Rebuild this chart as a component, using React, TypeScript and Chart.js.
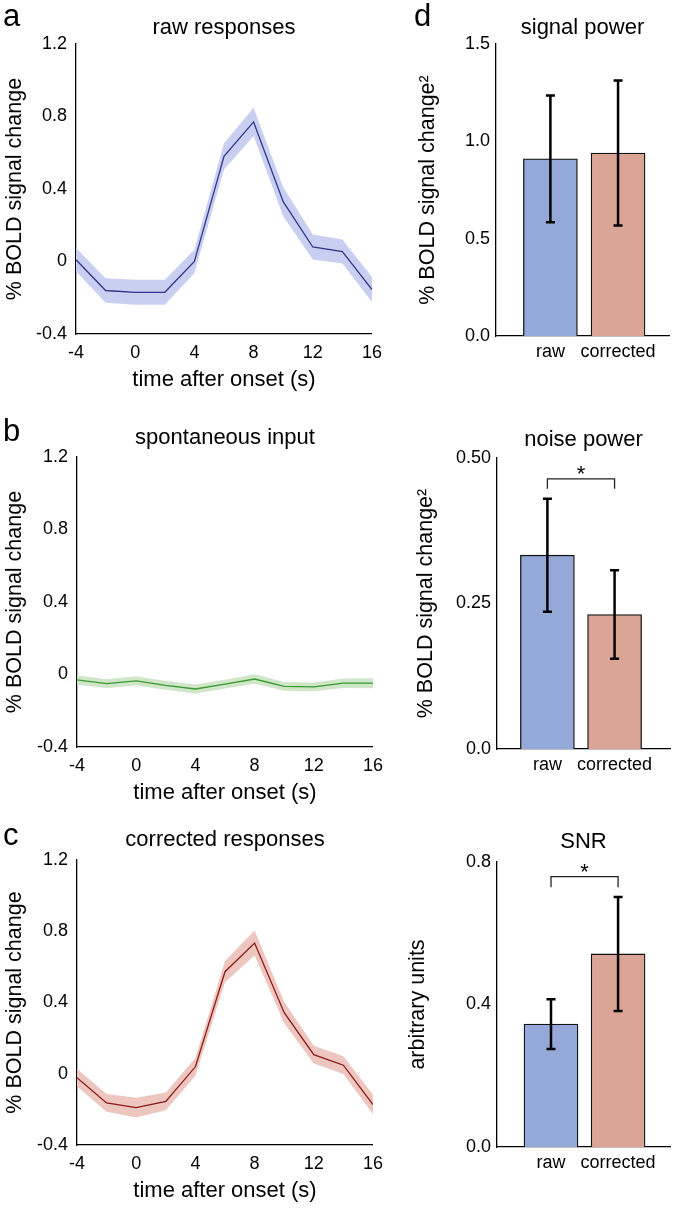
import React, { useEffect, useRef } from 'react';
import { Chart, registerables } from 'chart.js';

Chart.register(...registerables);

const FONT = '"Liberation Sans", Arial, Helvetica, sans-serif';

// ---------- data ----------
const timePoints = [-4, -2, 0, 2, 4, 6, 8, 10, 12, 14, 16];

const rawMean = [0.01, -0.16, -0.17, -0.17, 0.0, 0.58, 0.77, 0.33, 0.08, 0.055, -0.155];
const rawSem = [0.064, 0.068, 0.069, 0.069, 0.065, 0.072, 0.078, 0.08, 0.069, 0.066, 0.069];

const spontMean = [-0.03, -0.05, -0.035, -0.06, -0.08, -0.053, -0.025, -0.065, -0.068, -0.048, -0.048];
const spontSem = [0.026, 0.024, 0.026, 0.024, 0.025, 0.024, 0.026, 0.024, 0.024, 0.026, 0.028];

const corrMean = [-0.022, -0.164, -0.19, -0.155, 0.039, 0.573, 0.734, 0.343, 0.107, 0.048, -0.173];
const corrSem = [0.05, 0.05, 0.055, 0.05, 0.05, 0.06, 0.07, 0.06, 0.05, 0.05, 0.055];

const lineXTicks = [-4, 0, 4, 8, 12, 16];
const lineXTickLabels = ['-4', '0', '4', '8', '12', '16'];
const lineYTicks = [-0.4, 0, 0.4, 0.8, 1.2];
const lineYTickLabels = ['-0.4', '0', '0.4', '0.8', '1.2'];

const barCategories = ['raw', 'corrected'];

const signalPower = [0.91, 0.94];
const signalPowerErr = [0.326, 0.372];
const signalTicks = [0, 0.5, 1.0, 1.5];
const signalTickLabels = ['0.0', '0.5', '1.0', '1.5'];

const noisePower = [0.333, 0.231];
const noisePowerErr = [0.097, 0.076];
const noiseTicks = [0, 0.25, 0.5];
const noiseTickLabels = ['0.0', '0.25', '0.50'];

const snrValues = [0.345, 0.542];
const snrErr = [0.07, 0.16];
const snrTicks = [0, 0.4, 0.8];
const snrTickLabels = ['0.0', '0.4', '0.8'];

// ---------- styles ----------
const BAR_COLORS = ['#95a9d9', '#dba596'];

type LineLayout = { titleCenter: number; yTitleCenter: number; right: number };
type BarLayout = {
  titleCenter: number;
  yTitleCenter: number;
  yWidth: number;
  right: number;
  xMin: number;
  xMax: number;
};

const panelTitlePlugin = {
  id: 'panelTitle',
  afterDraw(chart: any, _args: any, opts: any) {
    const { ctx, chartArea } = chart;
    ctx.save();
    ctx.font = `22px ${FONT}`;
    ctx.fillStyle = '#000';
    ctx.textAlign = 'center';
    ctx.textBaseline = 'middle';
    ctx.fillText(opts.text, (chartArea.left + chartArea.right) / 2, opts.y);
    ctx.restore();
  },
};

function lineConfig(
  title: string,
  mean: number[],
  sem: number[],
  lineColor: string,
  bandColor: string,
  L: LineLayout
): any {
  const pts = (arr: number[]) => arr.map((v, i) => ({ x: timePoints[i], y: v }));
  const upper = mean.map((m, i) => m + sem[i]);
  const lower = mean.map((m, i) => m - sem[i]);
  return {
    type: 'line',
    data: {
      datasets: [
        { data: pts(lower), order: 2, borderWidth: 0, pointRadius: 0, fill: false, backgroundColor: bandColor, borderColor: bandColor },
        { data: pts(upper), order: 1, borderWidth: 0, pointRadius: 0, fill: '-1', backgroundColor: bandColor, borderColor: bandColor },
        { data: pts(mean), order: 0, borderWidth: 1.3, pointRadius: 0, fill: false, borderColor: lineColor, tension: 0 },
      ],
    },
    plugins: [panelTitlePlugin],
    options: {
      responsive: false,
      animation: false,
      events: [],
      layout: { padding: { left: 0, right: L.right, top: 44, bottom: 0 } },
      plugins: {
        legend: { display: false },
        tooltip: { enabled: false },
        title: { display: false },
        panelTitle: { text: title, y: L.titleCenter },
      },
      scales: {
        x: {
          type: 'linear',
          min: -4,
          max: 16,
          offset: false,
          grid: { display: false, drawTicks: false },
          border: { display: true, color: '#000', width: 1.3 },
          afterBuildTicks: (s: any) => {
            s.ticks = lineXTicks.map((v) => ({ value: v }));
          },
          afterFit: (s: any) => {
            s.height = 66;
          },
          ticks: {
            color: '#000',
            font: { family: FONT, size: 18, lineHeight: 1.2 },
            padding: 8,
            maxRotation: 0,
            autoSkip: false,
            callback: (_v: any, i: number) => lineXTickLabels[i],
          },
          title: {
            display: true,
            text: 'time after onset (s)',
            color: '#000',
            font: { family: FONT, size: 22, lineHeight: 1.2 },
            padding: { top: 0, bottom: 7 },
          },
        },
        y: {
          type: 'linear',
          min: -0.4,
          max: 1.2,
          grid: { display: false, drawTicks: false },
          border: { display: true, color: '#000', width: 1.3 },
          afterBuildTicks: (s: any) => {
            s.ticks = lineYTicks.map((v) => ({ value: v }));
          },
          afterFit: (s: any) => {
            s.width = 76;
          },
          ticks: {
            color: '#000',
            font: { family: FONT, size: 18, lineHeight: 1.2 },
            padding: 9,
            autoSkip: false,
            callback: (_v: any, i: number) => lineYTickLabels[i],
          },
          title: {
            display: true,
            text: '% BOLD signal change',
            color: '#000',
            font: { family: FONT, size: 21.5, lineHeight: 1.2 },
            padding: { top: L.yTitleCenter - 12.9, bottom: 0 },
          },
        },
      },
    },
  };
}

const errorBarPlugin = {
  id: 'errorBars',
  afterDatasetsDraw(chart: any, _args: any, opts: any) {
    const { ctx } = chart;
    const y = chart.scales.y;
    const meta = chart.getDatasetMeta(0);
    const values: number[] = opts.values || [];
    const errors: number[] = opts.errors || [];
    ctx.save();
    ctx.strokeStyle = '#000';
    ctx.lineWidth = 2.5;
    ctx.lineCap = 'butt';
    meta.data.forEach((bar: any, i: number) => {
      const cx = bar.x;
      const yTop = y.getPixelForValue(values[i] + errors[i]);
      const yBot = y.getPixelForValue(values[i] - errors[i]);
      ctx.beginPath();
      ctx.moveTo(cx, yTop);
      ctx.lineTo(cx, yBot);
      ctx.moveTo(cx - 4.5, yTop);
      ctx.lineTo(cx + 4.5, yTop);
      ctx.moveTo(cx - 4.5, yBot);
      ctx.lineTo(cx + 4.5, yBot);
      ctx.stroke();
    });
    if (opts.bracket) {
      const b = opts.bracket;
      const x1 = meta.data[0].x;
      const x2 = meta.data[1].x;
      const yT = y.getPixelForValue(b.top);
      const yL = y.getPixelForValue(b.leg);
      ctx.lineWidth = 1.3;
      ctx.strokeStyle = '#222';
      ctx.beginPath();
      ctx.moveTo(x1, yL);
      ctx.lineTo(x1, yT);
      ctx.lineTo(x2, yT);
      ctx.lineTo(x2, yL);
      ctx.stroke();
      ctx.fillStyle = '#000';
      ctx.font = `22px ${FONT}`;
      ctx.textAlign = 'center';
      ctx.textBaseline = 'alphabetic';
      ctx.fillText('*', (x1 + x2) / 2, yT + 2);
    }
    ctx.restore();
  },
};

function barConfig(
  title: string,
  yTitle: string,
  values: number[],
  errors: number[],
  ticks: number[],
  tickLabels: string[],
  L: BarLayout,
  bracket?: { top: number; leg: number }
): any {
  return {
    type: 'bar',
    data: {
      datasets: [
        {
          data: values.map((v, i) => ({ x: i + 1, y: v })),
          backgroundColor: BAR_COLORS,
          borderColor: '#111',
          borderWidth: 1.3,
          barThickness: 54,
        },
      ],
    },
    plugins: [errorBarPlugin, panelTitlePlugin],
    options: {
      responsive: false,
      animation: false,
      events: [],
      layout: { padding: { left: 0, right: L.right, top: 44, bottom: 0 } },
      plugins: {
        legend: { display: false },
        tooltip: { enabled: false },
        title: { display: false },
        panelTitle: { text: title, y: L.titleCenter },
        errorBars: { values, errors, bracket },
      },
      scales: {
        x: {
          type: 'linear',
          min: L.xMin,
          max: L.xMax,
          offset: false,
          grid: { display: false, drawTicks: false, offset: false },
          border: { display: true, color: '#000', width: 1.3 },
          afterBuildTicks: (s: any) => {
            s.ticks = barCategories.map((_c, i) => ({ value: i + 1 }));
          },
          afterFit: (s: any) => {
            s.height = 64;
          },
          ticks: {
            color: '#000',
            font: { family: FONT, size: 18, lineHeight: 1.2 },
            padding: 5,
            maxRotation: 0,
            autoSkip: false,
            callback: (_v: any, i: number) => barCategories[i],
          },
        },
        y: {
          type: 'linear',
          min: ticks[0],
          max: ticks[ticks.length - 1],
          grid: { display: false, drawTicks: false },
          border: { display: true, color: '#000', width: 1.3 },
          afterBuildTicks: (s: any) => {
            s.ticks = ticks.map((v) => ({ value: v }));
          },
          afterFit: (s: any) => {
            s.width = L.yWidth;
          },
          ticks: {
            color: '#000',
            font: { family: FONT, size: 18, lineHeight: 1.2 },
            padding: 6,
            autoSkip: false,
            callback: (_v: any, i: number) => tickLabels[i],
          },
          title: {
            display: true,
            text: yTitle,
            color: '#000',
            font: { family: FONT, size: 21.5, lineHeight: 1.2 },
            padding: { top: L.yTitleCenter - 12.9, bottom: 0 },
          },
        },
      },
    },
  };
}

type PanelProps = { left: number; top: number; width: number; height: number; config: () => any };

function ChartPanel({ left, top, width, height, config }: PanelProps) {
  const ref = useRef<HTMLCanvasElement>(null);
  useEffect(() => {
    if (!ref.current) return;
    const chart = new Chart(ref.current, config());
    return () => chart.destroy();
  }, []);
  return (
    <canvas
      ref={ref}
      width={width}
      height={height}
      style={{ position: 'absolute', left, top, width, height }}
    />
  );
}

const letterStyle = (left: number, top: number): React.CSSProperties => ({
  position: 'absolute',
  left,
  top,
  fontFamily: FONT,
  fontSize: 31,
  lineHeight: '30px',
  color: '#000',
});

export default function App() {
  return (
    <div style={{ position: 'absolute', left: 0, top: 0, width: 676, height: 1211, background: '#fff', overflow: 'hidden' }}>
      <ChartPanel
        left={0}
        top={0}
        width={390}
        height={400}
        config={() =>
          lineConfig('raw responses', rawMean, rawSem, '#34348a', '#c8cff0', { titleCenter: 28, yTitleCenter: 15, right: 15 })
        }
      />
      <ChartPanel
        left={1}
        top={413}
        width={390}
        height={400}
        config={() =>
          lineConfig('spontaneous input', spontMean, spontSem, '#3a9a32', '#cfe6c8', { titleCenter: 25, yTitleCenter: 14, right: 15 })
        }
      />
      <ChartPanel
        left={1}
        top={816}
        width={390}
        height={395}
        config={() =>
          lineConfig('corrected responses', corrMean, corrSem, '#8c1a1a', '#ecc6bf', { titleCenter: 24, yTitleCenter: 14, right: 15 })
        }
      />
      <ChartPanel
        left={400}
        top={0}
        width={276}
        height={400}
        config={() =>
          barConfig('signal power', '% BOLD signal change²', signalPower, signalPowerErr, signalTicks, signalTickLabels, {
            titleCenter: 28,
            yTitleCenter: 28,
            yWidth: 96,
            right: 7,
            xMin: 0.196,
            xMax: 2.753,
          })
        }
      />
      <ChartPanel
        left={400}
        top={414}
        width={276}
        height={399}
        config={() =>
          barConfig(
            'noise power',
            '% BOLD signal change²',
            noisePower,
            noisePowerErr,
            noiseTicks,
            noiseTickLabels,
            { titleCenter: 26, yTitleCenter: 26, yWidth: 97, right: 6, xMin: 0.25, xMax: 2.825 },
            { top: 0.464, leg: 0.447 }
          )
        }
      />
      <ChartPanel
        left={400}
        top={818}
        width={276}
        height={393}
        config={() =>
          barConfig(
            'SNR',
            'arbitrary units',
            snrValues,
            snrErr,
            snrTicks,
            snrTickLabels,
            { titleCenter: 24, yTitleCenter: 18, yWidth: 97, right: 6, xMin: 0.195, xMax: 2.774 },
            { top: 0.759, leg: 0.729 }
          )
        }
      />
      <div style={letterStyle(3, 1)}>a</div>
      <div style={letterStyle(3, 416)}>b</div>
      <div style={letterStyle(3, 820)}>c</div>
      <div style={letterStyle(414, 1)}>d</div>
    </div>
  );
}
